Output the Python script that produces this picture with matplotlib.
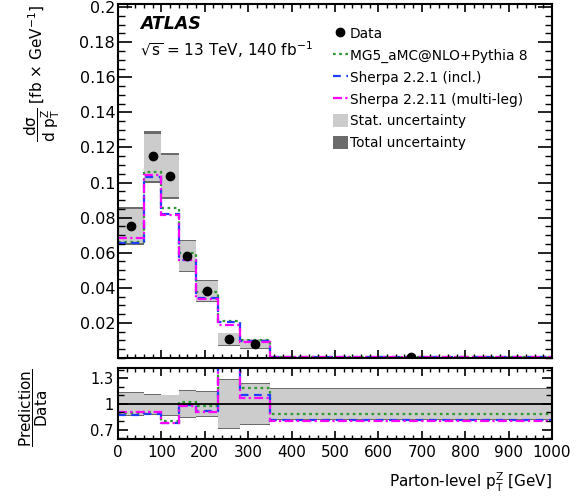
import numpy as np
import matplotlib
matplotlib.use('Agg')
import matplotlib.pyplot as plt
from matplotlib.lines import Line2D
from matplotlib.patches import Patch

plt.rcParams['font.family'] = ['DejaVu Sans']
plt.rcParams['mathtext.default'] = 'regular'

########### Data
bin_edges = [0, 60, 100, 140, 180, 230, 280, 350, 1000]

data_xsec = [0.0753, 0.1149, 0.1040, 0.0583, 0.0382, 0.0108, 0.0079, 0.0004]
tot_lo = [0.0642, 0.1000, 0.0909, 0.0490, 0.0320, 0.0071, 0.0054, 0.0002]
tot_hi = [0.0863, 0.1291, 0.1168, 0.0673, 0.0442, 0.0145, 0.0108, 0.0006]
stat_lo = [0.0654, 0.1011, 0.0920, 0.0494, 0.0323, 0.0074, 0.0056, 0.0002]
stat_hi = [0.0852, 0.1278, 0.1157, 0.0669, 0.0439, 0.0142, 0.0106, 0.0006]

mg5 = [0.0663, 0.1060, 0.0854, 0.0598, 0.0377, 0.0211, 0.0104, 0.0003]
sherpa221 = [0.0655, 0.1034, 0.0821, 0.0558, 0.0343, 0.0206, 0.0094, 0.0003]
sherpa2211 = [0.0686, 0.1044, 0.0815, 0.0558, 0.0338, 0.0190, 0.0092, 0.0003]

# ratio panel (prediction / data)
mg5_ratio = [0.89, 0.91, 0.80, 1.02, 0.98, 1.94, 1.19, 0.88]
sherpa221_ratio = [0.87, 0.88, 0.78, 0.99, 0.92, 1.89, 1.11, 0.81]
sherpa2211_ratio = [0.90, 0.90, 0.78, 0.98, 0.90, 1.76, 1.07, 0.80]
ratio_tot_lo = [0.86, 0.87, 0.86, 0.84, 0.85, 0.71, 0.75, 0.81]
ratio_tot_hi = [1.14, 1.12, 1.11, 1.16, 1.15, 1.29, 1.24, 1.19]
ratio_stat_lo = [0.87, 0.88, 0.87, 0.85, 0.86, 0.72, 0.76, 0.82]
ratio_stat_hi = [1.13, 1.11, 1.10, 1.15, 1.14, 1.28, 1.23, 1.18]

model_names = ['MG5_aMC@NLO+Pythia 8', 'Sherpa 2.2.1 (incl.)', 'Sherpa 2.2.11 (multi-leg)']
model_colors = ['#2e9a2e', '#1f3cff', '#ff00ff']
model_styles = [(0, (1.2, 1.6)), (0, (3.5, 2.5)), (0, (4, 1.5, 1, 1.5))]

C_STAT = '#cccccc'
C_TOT = '#6b6b6b'
###########

edges = np.array(bin_edges, dtype=float)
centers = 0.5 * (edges[1:] + edges[:-1])

fig = plt.figure(figsize=(5.87, 5.03), dpi=100)
ax = fig.add_axes([0.2010, 0.2883, 0.7394, 0.7028])
rx = fig.add_axes([0.2010, 0.1272, 0.7394, 0.1412])

# main panel
ax.stairs(tot_hi, edges, baseline=tot_lo, fill=True, color=C_TOT, lw=0)
ax.stairs(stat_hi, edges, baseline=stat_lo, fill=True, color=C_STAT, lw=0)
for vals, col, ls in zip([mg5, sherpa221, sherpa2211], model_colors, model_styles):
    ax.stairs(vals, edges, baseline=None, color=col, ls=ls, lw=1.6)
ax.plot(centers, data_xsec, 'o', color='black', ms=6, zorder=5)

ax.set_xlim(0, 1000)
ax.set_ylim(0, 0.2015)
ax.set_yticks(np.arange(0.02, 0.201, 0.02))
ax.set_yticklabels(['%g' % v for v in np.round(np.arange(0.02, 0.201, 0.02), 2)])
ax.yaxis.set_minor_locator(matplotlib.ticker.MultipleLocator(0.005))
ax.xaxis.set_major_locator(matplotlib.ticker.MultipleLocator(100))
ax.xaxis.set_minor_locator(matplotlib.ticker.MultipleLocator(20))
ax.tick_params(which='both', direction='in', top=True, right=True, labelbottom=False)
ax.tick_params(axis='y', which='major', length=10, width=1.2, labelsize=11.5, pad=2)
ax.tick_params(axis='y', which='minor', length=5, width=1.0)
ax.tick_params(axis='x', which='major', length=6, width=1.2)
ax.tick_params(axis='x', which='minor', length=3, width=1.0)
for s in ax.spines.values():
    s.set_linewidth(1.5)

ax.set_ylabel(r'$\dfrac{d\sigma}{d\ p_{T}^{Z}}$ [fb $\times$ GeV$^{-1}$]', fontsize=11, loc='top')
ax.yaxis.set_label_coords(-0.13, 1.0)

ax.text(0.05, 0.93, 'ATLAS', transform=ax.transAxes, fontsize=12.5, fontweight='bold',
        fontstyle='italic', va='baseline')
ax.text(0.05, 0.855, r'$\sqrt{s}$ = 13 TeV, 140 fb$^{-1}$', transform=ax.transAxes,
        fontsize=11, va='baseline')

handles = [Line2D([], [], marker='o', color='black', ls='none', ms=6)]
for col, ls in zip(model_colors, model_styles):
    handles.append(Line2D([], [], color=col, ls=ls, lw=1.6))
handles.append(Patch(facecolor=C_STAT, edgecolor='none'))
handles.append(Patch(facecolor=C_TOT, edgecolor='none'))
labels = ['Data'] + model_names + ['Stat. uncertainty', 'Total uncertainty']
ax.legend(handles, labels, loc='upper left', bbox_to_anchor=(0.495, 0.937), frameon=False,
          fontsize=9.9, handlelength=1.07, handleheight=1.07, handletextpad=0.15,
          labelspacing=0.56, borderpad=0, borderaxespad=0)

# ratio panel
rx.stairs(ratio_tot_hi, edges, baseline=ratio_tot_lo, fill=True, color=C_TOT, lw=0)
rx.stairs(ratio_stat_hi, edges, baseline=ratio_stat_lo, fill=True, color=C_STAT, lw=0)
rx.axhline(1.0, color='black', lw=1.3)
for vals, col, ls in zip([mg5_ratio, sherpa221_ratio, sherpa2211_ratio], model_colors, model_styles):
    rx.stairs(vals, edges, baseline=None, color=col, ls=ls, lw=1.6)

rx.set_xlim(0, 1000)
rx.set_ylim(0.59, 1.42)
rx.set_yticks([0.7, 1.0, 1.3])
rx.set_yticklabels(['0.7', '1', '1.3'])
rx.yaxis.set_minor_locator(matplotlib.ticker.MultipleLocator(0.1))
rx.xaxis.set_major_locator(matplotlib.ticker.MultipleLocator(100))
rx.xaxis.set_minor_locator(matplotlib.ticker.MultipleLocator(20))
rx.tick_params(which='both', direction='in', top=True, right=True)
rx.tick_params(axis='y', which='major', length=7, width=1.2, labelsize=10.5, pad=3)
rx.tick_params(axis='y', which='minor', length=4, width=1.0)
rx.tick_params(axis='x', which='major', length=6, width=1.2, labelsize=11, pad=4)
rx.tick_params(axis='x', which='minor', length=3, width=1.0)
for s in rx.spines.values():
    s.set_linewidth(1.5)

rx.set_ylabel(r'$\dfrac{Prediction}{Data}$', fontsize=11)
rx.yaxis.set_label_coords(-0.157, 0.44)
rx.set_xlabel(r'Parton-level $p_{T}^{Z}$ [GeV]', fontsize=11, loc='right', labelpad=8)

fig.savefig('out.png', dpi=100)
